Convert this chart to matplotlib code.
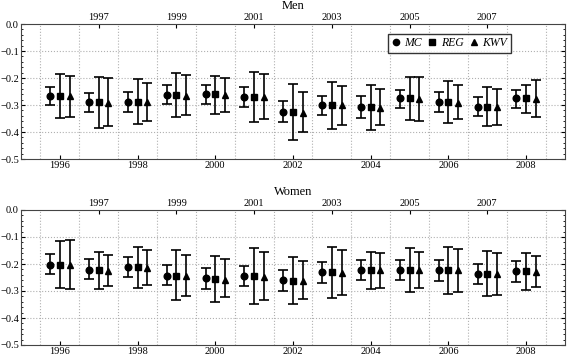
import numpy as np
import matplotlib
matplotlib.use('Agg')
from matplotlib import pyplot as plt
from matplotlib.lines import Line2D
from matplotlib.ticker import MultipleLocator, FixedLocator

plt.rcParams['font.family'] = 'Liberation Serif'
plt.rcParams['font.size'] = 8

years = np.arange(1996, 2009)
methods = ['MC', 'REG', 'KWV']
markers = ['o', 's', '^']

# Men: point estimates and lower/upper bounds per method
men_mc = [-0.267, -0.290, -0.288, -0.263, -0.260, -0.269, -0.326, -0.300, -0.309, -0.275, -0.290, -0.306, -0.275]
men_mc_lo = [-0.301, -0.326, -0.325, -0.298, -0.296, -0.306, -0.363, -0.337, -0.347, -0.310, -0.327, -0.341, -0.312]
men_mc_hi = [-0.232, -0.254, -0.253, -0.227, -0.227, -0.233, -0.286, -0.265, -0.268, -0.243, -0.250, -0.269, -0.244]
men_reg = [-0.267, -0.290, -0.288, -0.263, -0.260, -0.269, -0.326, -0.300, -0.309, -0.275, -0.290, -0.306, -0.275]
men_reg_lo = [-0.349, -0.384, -0.370, -0.346, -0.332, -0.362, -0.430, -0.390, -0.394, -0.354, -0.367, -0.377, -0.328]
men_reg_hi = [-0.186, -0.196, -0.205, -0.183, -0.193, -0.178, -0.221, -0.215, -0.225, -0.198, -0.212, -0.233, -0.227]
men_kwv = [-0.268, -0.292, -0.290, -0.265, -0.262, -0.272, -0.328, -0.301, -0.310, -0.276, -0.291, -0.307, -0.276]
men_kwv_lo = [-0.344, -0.378, -0.359, -0.338, -0.325, -0.353, -0.400, -0.374, -0.375, -0.358, -0.353, -0.374, -0.344]
men_kwv_hi = [-0.193, -0.201, -0.220, -0.188, -0.201, -0.186, -0.251, -0.230, -0.241, -0.195, -0.227, -0.240, -0.209]

# Women
wom_mc = [-0.202, -0.221, -0.211, -0.243, -0.253, -0.244, -0.259, -0.231, -0.223, -0.221, -0.222, -0.236, -0.227]
wom_mc_lo = [-0.237, -0.257, -0.247, -0.278, -0.291, -0.281, -0.299, -0.270, -0.260, -0.260, -0.263, -0.273, -0.268]
wom_mc_hi = [-0.163, -0.183, -0.174, -0.205, -0.216, -0.206, -0.221, -0.191, -0.185, -0.185, -0.184, -0.199, -0.190]
wom_reg = [-0.202, -0.222, -0.212, -0.243, -0.256, -0.245, -0.262, -0.231, -0.223, -0.221, -0.222, -0.236, -0.227]
wom_reg_lo = [-0.290, -0.292, -0.288, -0.333, -0.340, -0.348, -0.347, -0.326, -0.293, -0.305, -0.312, -0.320, -0.298]
wom_reg_hi = [-0.115, -0.155, -0.137, -0.149, -0.169, -0.140, -0.173, -0.136, -0.154, -0.142, -0.136, -0.153, -0.159]
wom_kwv = [-0.204, -0.225, -0.214, -0.245, -0.258, -0.247, -0.263, -0.233, -0.224, -0.222, -0.223, -0.238, -0.228]
wom_kwv_lo = [-0.292, -0.283, -0.277, -0.319, -0.323, -0.335, -0.328, -0.314, -0.290, -0.290, -0.304, -0.314, -0.286]
wom_kwv_hi = [-0.112, -0.168, -0.149, -0.165, -0.183, -0.154, -0.190, -0.149, -0.158, -0.157, -0.144, -0.158, -0.169]

panels = [
    ('Men', [(men_mc, men_mc_lo, men_mc_hi), (men_reg, men_reg_lo, men_reg_hi), (men_kwv, men_kwv_lo, men_kwv_hi)]),
    ('Women', [(wom_mc, wom_mc_lo, wom_mc_hi), (wom_reg, wom_reg_lo, wom_reg_hi), (wom_kwv, wom_kwv_lo, wom_kwv_hi)]),
]

offsets = [-0.25, 0.0, 0.25]

fig = plt.figure(figsize=(5.67, 3.55), dpi=100)
W, H = 567.0, 355.0
boxes = [(21, 24, 565, 159), (21, 210, 565, 345)]


def fmt_y(v, pos):
    if abs(v) < 1e-9:
        return '0.0'
    return f'{v:.1f}'.replace('-', '\u2212')


for (title, series), (x0, y0, x1, y1) in zip(panels, boxes):
    ax = fig.add_axes([x0 / W, 1 - y1 / H, (x1 - x0) / W, (y1 - y0) / H])
    for (val, lo, hi), off, mk, name in zip(series, offsets, markers, methods):
        val = np.array(val)
        err = [val - np.array(lo), np.array(hi) - val]
        ax.errorbar(years + off, val, yerr=err, fmt=mk, color='black', ms=4.8,
                    elinewidth=1.2, capsize=3.5, capthick=1.2)
    ax.set_xlim(1995, 2009)
    ax.set_ylim(-0.5, 0.0)

    # grid at year boundaries and major y ticks
    for gx in np.arange(1995.5, 2009, 1.0):
        ax.axvline(gx, color='#b0b0b0', ls=':', lw=0.8, zorder=0)
    for gy in [-0.1, -0.2, -0.3, -0.4]:
        ax.axhline(gy, color='#b0b0b0', ls=':', lw=0.8, zorder=0)

    ax.yaxis.set_major_locator(MultipleLocator(0.1))
    ax.yaxis.set_minor_locator(MultipleLocator(0.02))
    ax.yaxis.set_major_formatter(plt.FuncFormatter(fmt_y))
    ax.tick_params(axis='y', which='both', direction='in', right=True, labelsize=7.5, pad=1.5)
    ax.tick_params(axis='y', which='major', length=3)
    ax.tick_params(axis='y', which='minor', length=1.5)

    ax.xaxis.set_major_locator(FixedLocator(years[::2]))
    ax.xaxis.set_minor_locator(FixedLocator([]))
    ax.tick_params(axis='x', direction='in', length=3, labelsize=7.5, pad=1.5)
    top = ax.secondary_xaxis('top')
    top.xaxis.set_major_locator(FixedLocator(years[1::2]))
    top.tick_params(direction='in', length=3, labelsize=7.5, pad=1.5)
    for sp in top.spines.values():
        sp.set_visible(False)

    for sp in ax.spines.values():
        sp.set_linewidth(0.8)
        sp.set_color('#444444')

    ax.text(0.5, 1.0 + 18 / (y1 - y0), title, transform=ax.transAxes,
            ha='center', va='center', fontsize=9)

    if title == 'Men':
        handles = [Line2D([], [], marker=mk, ls='none', color='black', ms=4.5)
                   for mk in markers]
        leg = ax.legend(handles, methods, loc='center', bbox_to_anchor=(0.787, 0.856), ncol=3,
                        frameon=True, fancybox=False, handletextpad=0.3,
                        columnspacing=0.5, borderpad=0.3, handlelength=0.8,
                        borderaxespad=0, prop={'style': 'italic', 'size': 8.5})
        leg.get_frame().set_edgecolor('black')
        leg.get_frame().set_linewidth(1.0)

fig.savefig('out.png', dpi=100)
